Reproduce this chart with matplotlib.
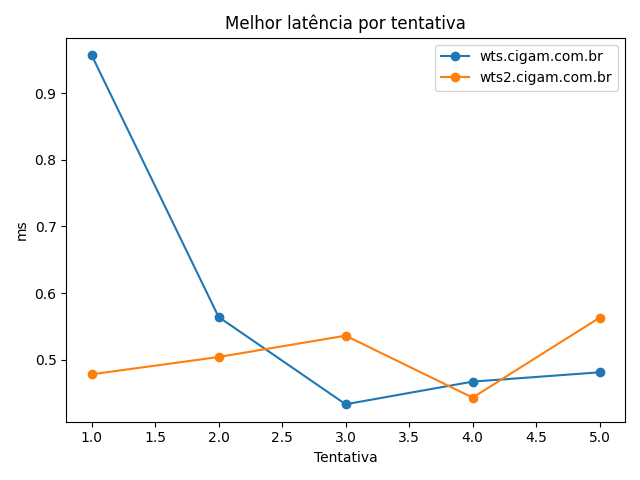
import matplotlib
matplotlib.use("Agg")
import matplotlib.pyplot as plt

tentativas = [1, 2, 3, 4, 5]
wts = [0.957, 0.564, 0.433, 0.467, 0.481]
wts2 = [0.478, 0.504, 0.536, 0.443, 0.563]

fig, ax = plt.subplots(figsize=(6.4, 4.8), dpi=100)
ax.plot(tentativas, wts, marker="o", label="wts.cigam.com.br")
ax.plot(tentativas, wts2, marker="o", label="wts2.cigam.com.br")
ax.set_title("Melhor latência por tentativa")
ax.set_xlabel("Tentativa")
ax.set_ylabel("ms")
ax.legend()
fig.tight_layout()
fig.savefig("out.png")
